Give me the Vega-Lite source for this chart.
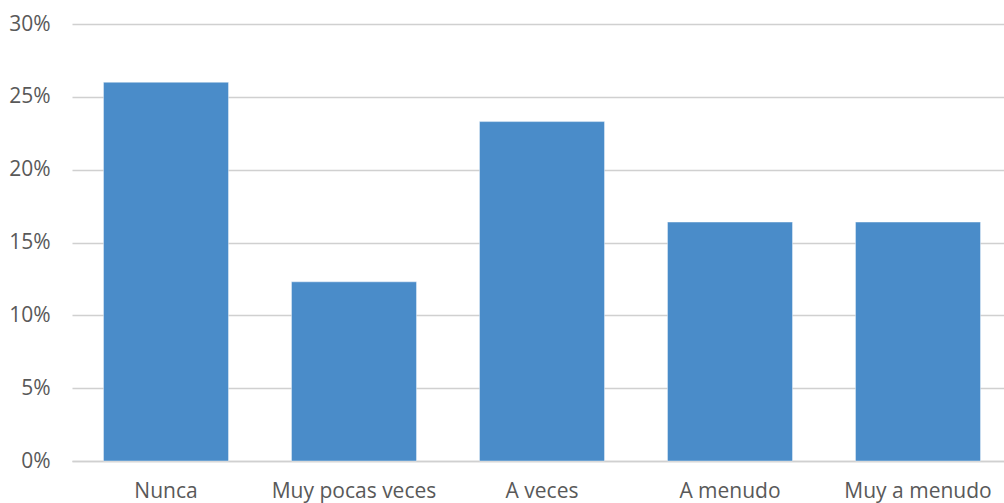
{
  "$schema": "https://vega.github.io/schema/vega-lite/v6.json",
  "width": 940,
  "height": 437,
  "autosize": {"type": "none"},
  "padding": {"left": 72, "top": 24, "right": 0, "bottom": 42},
  "background": "white",
  "config": {"view": {"stroke": null}},
  "data": {"values": [
    {"categoria": "Nunca", "valor": 0.26},
    {"categoria": "Muy pocas veces", "valor": 0.123},
    {"categoria": "A veces", "valor": 0.233},
    {"categoria": "A menudo", "valor": 0.164},
    {"categoria": "Muy a menudo", "valor": 0.164}
  ]},
  "mark": {"type": "bar", "color": "#4a8cc9", "stroke": "#ffffff", "strokeWidth": 0.8, "strokeOpacity": 0.5},
  "encoding": {
    "x": {
      "field": "categoria", "type": "nominal", "sort": null,
      "scale": {"paddingInner": 0.335, "paddingOuter": 0.1675},
      "axis": {"title": null, "labelAngle": 0, "labelFont": "Open Sans", "labelFontSize": 21, "labelColor": "#595959", "labelPadding": 19, "labelBaseline": "top", "ticks": false, "domainColor": "#d0d0d0", "domainWidth": 1.5}
    },
    "y": {
      "field": "valor", "type": "quantitative",
      "scale": {"domain": [0, 0.3]},
      "axis": {"title": null, "format": ".0%", "values": [0, 0.05, 0.1, 0.15, 0.2, 0.25, 0.3], "labelFont": "Open Sans", "labelFontSize": 21, "labelColor": "#595959", "labelPadding": 22, "ticks": false, "domain": false, "gridColor": "#d0d0d0", "gridWidth": 1.5}
    }
  }
}
